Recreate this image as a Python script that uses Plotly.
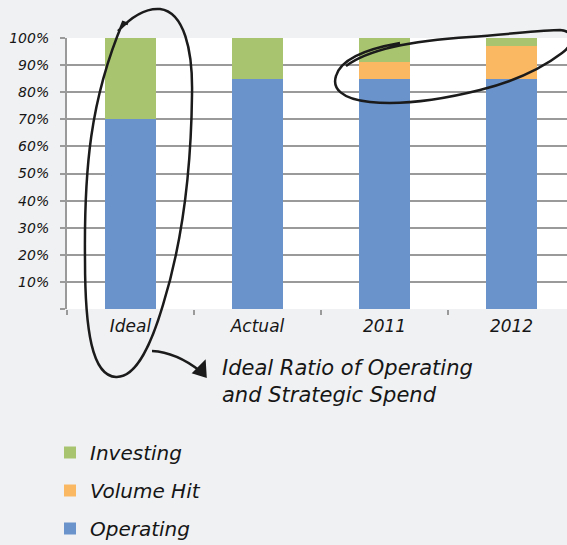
import plotly.graph_objects as go

# Spend mix by scenario (percent of total)
categories = ["Ideal", "Actual", "2011", "2012"]
operating = [70, 85, 85, 85]
volume_hit = [0, 0, 6, 12]
investing = [30, 15, 9, 3]

y_ticks = [0, 10, 20, 30, 40, 50, 60, 70, 80, 90, 100]
y_tick_text = ["", "10%", "20%", "30%", "40%", "50%", "60%", "70%", "80%", "90%", "100%"]

W, H = 567, 545
ML, MR, MT, MB = 67, 0, 38, 236
PW, PH = W - ML - MR, H - MT - MB

BLUE = "#6a93cb"
ORANGE = "#fbb862"
GREEN = "#a9c46f"
GRID = "#9a9a9a"
INK = "#1b1b1b"
FONT = "DejaVu Sans"
TEXT = "#161616"


def px_path(pts_cmds):
    """Convert a pixel-space SVG path (list of (cmd, [x, y, ...])) into paper coordinates."""
    out = []
    for cmd, nums in pts_cmds:
        coords = []
        for i in range(0, len(nums), 2):
            x = (nums[i] - ML) / PW
            y = (H - MB - nums[i + 1]) / PH
            coords.append(f"{x:.4f},{y:.4f}")
        out.append(cmd + " " + " ".join(coords))
    return " ".join(out)


fig = go.Figure()
fig.add_trace(go.Bar(name="Operating", x=categories, y=operating,
                     marker=dict(color=BLUE, line=dict(width=0)),
                     legendgroup="a", legendrank=3))
fig.add_trace(go.Bar(name="Volume Hit", x=categories, y=volume_hit,
                     marker=dict(color=ORANGE, line=dict(width=0)),
                     legendgroup="b", legendrank=2))
fig.add_trace(go.Bar(name="Investing", x=categories, y=investing,
                     marker=dict(color=GREEN, line=dict(width=0)),
                     legendgroup="c", legendrank=1))

# hand-drawn loop around the "Ideal" bar
loop_ideal = px_path([
    ("M", [118, 31]),
    ("C", [133, 15, 148, 8, 160, 9]),
    ("C", [184, 12, 193, 50, 192, 95]),
    ("C", [191, 180, 180, 250, 163, 305]),
    ("C", [152, 342, 137, 378, 116, 377]),
    ("C", [92, 376, 85, 330, 85, 260]),
    ("C", [84, 170, 90, 100, 123, 22]),
    ("L", [128, 24]),
])
# loop around the 2011 / 2012 tops
loop_years = px_path([
    ("M", [346, 66]),
    ("C", [370, 48, 420, 40, 470, 37]),
    ("C", [510, 34, 545, 30, 560, 30]),
    ("C", [576, 31, 572, 46, 562, 53]),
    ("C", [545, 66, 520, 80, 480, 90]),
    ("C", [440, 100, 400, 105, 370, 102]),
    ("C", [341, 99, 332, 88, 336, 76]),
    ("C", [340, 62, 360, 50, 400, 43]),
])
# curved pointer toward the note
pointer = px_path([
    ("M", [152, 351]),
    ("C", [170, 352, 186, 360, 200, 371]),
])
pointer_head = px_path([
    ("M", [193, 373]),
    ("L", [205, 361]),
    ("L", [206, 377]),
    ("Z", []),
])

shapes = [
    dict(type="path", xref="paper", yref="paper", path=loop_ideal,
         line=dict(color=INK, width=2.5), layer="above"),
    dict(type="path", xref="paper", yref="paper", path=loop_years,
         line=dict(color=INK, width=2.5), layer="above"),
    dict(type="path", xref="paper", yref="paper", path=pointer,
         line=dict(color=INK, width=2.5), layer="above"),
    dict(type="path", xref="paper", yref="paper", path=pointer_head,
         line=dict(color=INK, width=1.5), fillcolor=INK, layer="above"),
]

fig.update_layout(
    width=W, height=H,
    margin=dict(l=ML, r=MR, t=MT, b=MB, pad=0, autoexpand=False),
    paper_bgcolor="#f0f1f3",
    plot_bgcolor="#ffffff",
    barmode="stack",
    bargap=0.606,
    font=dict(family=FONT, color=TEXT),
    shapes=shapes,
    showlegend=True,
    legend=dict(
        x=(50 - ML) / PW, xanchor="left",
        y=(H - MB - 433) / PH, yanchor="top",
        traceorder="grouped",
        tracegroupgap=9,
        font=dict(family=FONT, size=20, style="italic", weight=300, color=TEXT),
        bgcolor="rgba(0,0,0,0)",
    ),
    annotations=[
        dict(xref="paper", yref="paper",
             x=(220 - ML) / PW, y=(H - MB - 354) / PH,
             xanchor="left", yanchor="top", align="left", showarrow=False,
             text="Ideal Ratio of Operating<br>and Strategic Spend",
             font=dict(family=FONT, size=21, style="italic", weight=300, color=TEXT)),
    ],
)

fig.update_xaxes(
    type="category",
    range=[-0.5, -0.5 + PW / 127.0],
    showgrid=False,
    showline=False,
    ticks="outside", tickson="boundaries", ticklen=5, tickwidth=2, tickcolor=GRID,
    ticklabelstandoff=5,
    tickfont=dict(family=FONT, size=17, style="italic", weight=300, color=TEXT),
    zeroline=False,
)
fig.update_yaxes(
    range=[0, 100],
    tickvals=y_ticks, ticktext=y_tick_text,
    showgrid=True, gridcolor=GRID, gridwidth=2,
    showline=True, linecolor=GRID, linewidth=2,
    ticks="outside", ticklen=5, tickwidth=2, tickcolor=GRID,
    ticklabelstandoff=8,
    tickfont=dict(family=FONT, size=14, style="italic", weight=300, color=TEXT),
    zeroline=False,
)

fig.write_html("out.html")
